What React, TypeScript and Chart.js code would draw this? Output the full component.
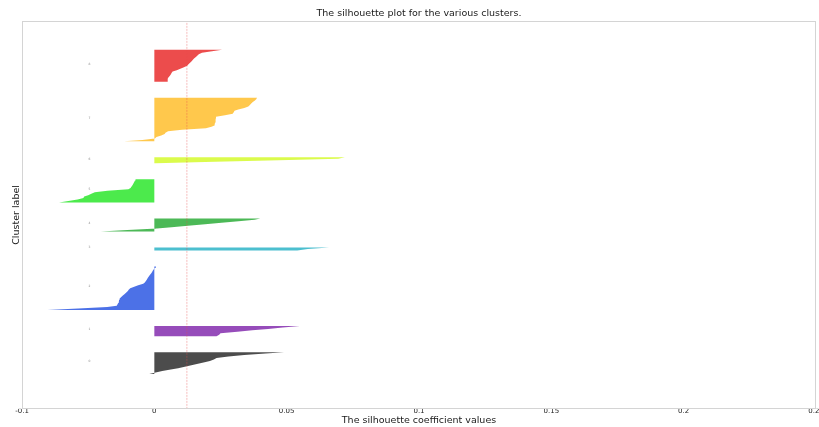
import React, { useEffect, useRef } from 'react';
import { Chart, registerables } from 'chart.js';

Chart.register(...registerables);

// ---- data ----
const chartTitle = 'The silhouette plot for the various clusters.';
const xAxisTitle = 'The silhouette coefficient values';
const yAxisTitle = 'Cluster label';

const xTickValues = [-0.05, 0, 0.05, 0.1, 0.15, 0.2, 0.25];
const xTickLabels = ['-0.1', '0', '0.05', '0.1', '0.15', '0.2', '0.25'];

const clusterLabels = ['0', '1', '2', '3', '4', '5', '6', '7', '8'];

const clusterColors = [
  'rgba(0,0,0,0.7)',
  'rgba(106,0,157,0.7)',
  'rgba(0,53,221,0.7)',
  'rgba(0,164,187,0.7)',
  'rgba(0,155,15,0.7)',
  'rgba(0,225,0,0.7)',
  'rgba(204,249,0,0.7)',
  'rgba(255,176,0,0.7)',
  'rgba(228,0,0,0.7)',
];

// sorted silhouette values of each cluster (ascending)
const cluster0 = [-0.0019, 0.0005, 0.003, 0.0062, 0.009, 0.0115, 0.014, 0.0165, 0.019, 0.021, 0.0225, 0.0235, 0.028, 0.034, 0.042, 0.049];
const cluster1 = [0.0235, 0.0245, 0.025, 0.0314, 0.037, 0.043, 0.0485, 0.055];
const cluster2 = [-0.0404, -0.0288, -0.0178, -0.0142, -0.0139, -0.0136, -0.0134, -0.0133, -0.0131, -0.0125, -0.0119, -0.0112, -0.0106, -0.01, -0.0097, -0.0091, -0.0076, -0.0061, -0.0042, -0.0036, -0.0032, -0.0028, -0.0025, -0.0021, -0.0017, -0.0013, -0.0009, -0.0006, -0.0002, 0.0004, 0.0006];
const cluster3 = [0.054, 0.058, 0.066];
const cluster4 = [-0.0202, -0.0102, 0.001, 0.0065, 0.0127, 0.0192, 0.0254, 0.0318, 0.0379, 0.04];
const cluster5 = [-0.036, -0.0325, -0.029, -0.0268, -0.0265, -0.025, -0.0238, -0.0225, -0.0177, -0.0098, -0.009, -0.0086, -0.0082, -0.0079, -0.0076, -0.0073, -0.0071];
const cluster6 = [0.0005, 0.023, 0.047, 0.0695, 0.072];
const cluster7 = [-0.0114, -0.0045, 0.0002, 0.0008, 0.0026, 0.0039, 0.0042, 0.0052, 0.0105, 0.0195, 0.0216, 0.0227, 0.0228, 0.023, 0.0231, 0.0232, 0.0233, 0.0233, 0.0267, 0.0296, 0.03, 0.0303, 0.0317, 0.034, 0.0355, 0.0361, 0.0366, 0.0372, 0.0379, 0.0385, 0.0388];
const cluster8 = [0.005, 0.005, 0.0051, 0.0053, 0.0058, 0.0062, 0.0065, 0.0069, 0.0085, 0.0098, 0.0112, 0.0124, 0.0129, 0.0135, 0.014, 0.0145, 0.015, 0.0157, 0.0163, 0.0168, 0.018, 0.0218, 0.0256];

const clusters = [cluster0, cluster1, cluster2, cluster3, cluster4, cluster5, cluster6, cluster7, cluster8];

const avgSilhouette = 0.0123;
const labelXValue = -0.0245;
const firstLower = 10;
const clusterGap = 10;
const yMin = -14;
const yMax = 252.8;

const FONT = 'DejaVu Sans';

export default function App() {
  const ref = useRef<HTMLCanvasElement | null>(null);

  useEffect(() => {
    if (!ref.current) return;

    const datasets: any[] = [];
    const labelPos: { y: number; text: string }[] = [];

    datasets.push({
      label: 'avg',
      data: [
        { x: avgSilhouette, y: yMin },
        { x: avgSilhouette, y: yMax },
      ],
      showLine: true,
      borderColor: 'rgba(230,70,70,0.45)',
      borderWidth: 0.8,
      borderDash: [2, 1],
      pointRadius: 0,
      fill: false,
    });

    let yLower = firstLower;
    clusters.forEach((vals, i) => {
      const n = vals.length;
      const pts = [
        { x: 0, y: yLower },
        ...vals.map((v, k) => ({ x: v, y: yLower + k })),
        { x: 0, y: yLower + n - 1 },
      ];
      datasets.push({
        label: clusterLabels[i],
        data: pts,
        showLine: true,
        fill: 'shape',
        backgroundColor: clusterColors[i],
        borderColor: 'rgba(0,0,0,0)',
        borderWidth: 0,
        pointRadius: 0,
        tension: 0,
      });
      labelPos.push({ y: yLower + 0.5 * n, text: clusterLabels[i] });
      yLower += n + clusterGap;
    });

    const framePlugin = {
      id: 'frame',
      afterDraw(chart: any) {
        const { ctx, chartArea } = chart;
        ctx.save();
        ctx.strokeStyle = '#d4d4d4';
        ctx.lineWidth = 1;
        ctx.strokeRect(
          Math.round(chartArea.left) + 0.5,
          Math.round(chartArea.top) + 0.5,
          Math.round(chartArea.right - chartArea.left) - 1,
          Math.round(chartArea.bottom - chartArea.top) - 1
        );
        ctx.restore();
      },
    };

    const labelPlugin = {
      id: 'clusterLabels',
      afterDatasetsDraw(chart: any) {
        const { ctx, scales } = chart;
        ctx.save();
        ctx.font = `3px "${FONT}"`;
        ctx.fillStyle = '#888';
        ctx.textAlign = 'center';
        ctx.textBaseline = 'alphabetic';
        labelPos.forEach((p) => {
          ctx.fillText(p.text, scales.x.getPixelForValue(labelXValue), scales.y.getPixelForValue(p.y));
        });
        ctx.restore();
      },
    };

    const chart = new Chart(ref.current, {
      type: 'scatter',
      data: { datasets },
      plugins: [framePlugin, labelPlugin],
      options: {
        animation: false,
        responsive: false,
        devicePixelRatio: 1,
        layout: { padding: { left: 1, right: 3, top: 0, bottom: 0 } },
        plugins: {
          legend: { display: false },
          tooltip: { enabled: false },
          title: {
            display: true,
            text: chartTitle,
            fullSize: false,
            color: '#1a1a1a',
            font: { family: FONT, size: 9.5, weight: 'normal', lineHeight: 1.2 },
            padding: { top: 8, bottom: 1.6 },
          },
        },
        scales: {
          x: {
            type: 'linear',
            min: -0.05,
            max: 0.25,
            afterBuildTicks: (s: any) => {
              s.ticks = xTickValues.map((v) => ({ value: v }));
            },
            afterFit: (s: any) => {
              s.paddingLeft = 0;
              s.paddingRight = 0;
            },
            ticks: {
              autoSkip: false,
              maxRotation: 0,
              minRotation: 0,
              padding: 0,
              color: '#222',
              font: { family: FONT, size: 7, lineHeight: 0.7 },
              callback: (_v: any, i: number) => xTickLabels[i],
            },
            grid: { display: false, drawTicks: false },
            border: { display: false },
            title: {
              display: true,
              text: xAxisTitle,
              color: '#1a1a1a',
              font: { family: FONT, size: 9.5, lineHeight: 1 },
              padding: { top: 2, bottom: 1.74 },
            },
          },
          y: {
            type: 'linear',
            min: yMin,
            max: yMax,
            ticks: { display: false },
            grid: { display: false, drawTicks: false },
            border: { display: false },
            title: {
              display: true,
              text: yAxisTitle,
              color: '#1a1a1a',
              font: { family: FONT, size: 9.5, lineHeight: 1.2 },
              padding: { top: 9.6, bottom: 0 },
            },
          },
        },
      } as any,
    });

    return () => chart.destroy();
  }, []);

  return (
    <div style={{ position: 'fixed', left: 0, top: 0, width: 819, height: 427, background: '#fff', overflow: 'hidden' }}>
      <canvas ref={ref} width={819} height={427} style={{ display: 'block', width: 819, height: 427 }} />
    </div>
  );
}
